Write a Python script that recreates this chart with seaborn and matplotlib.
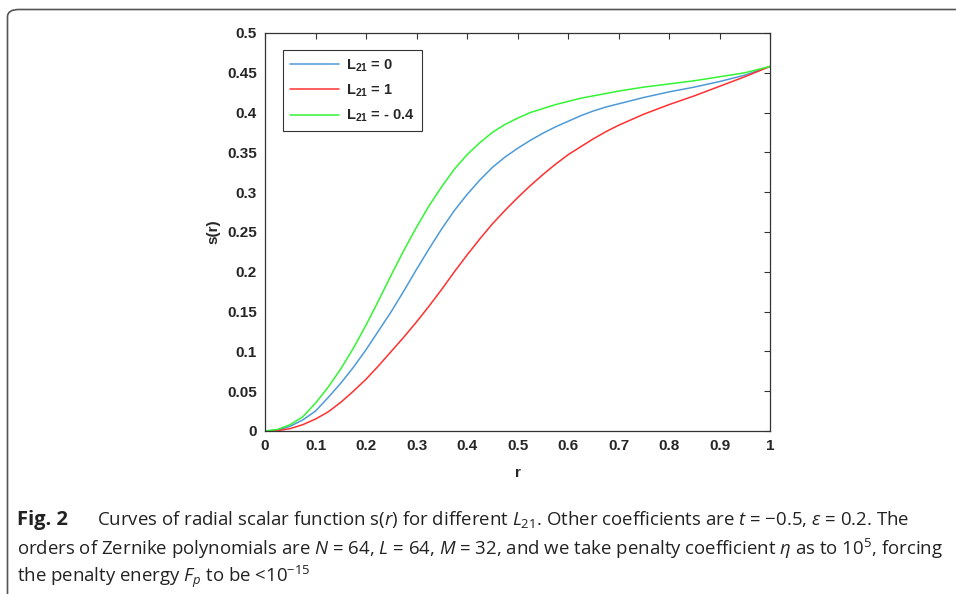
import numpy as np
import pandas as pd
import matplotlib
matplotlib.use("Agg")
import matplotlib.pyplot as plt
from matplotlib.patches import FancyBboxPatch
from matplotlib.ticker import FuncFormatter, MultipleLocator
import seaborn as sns

# values
r = [0, 0.025, 0.05, 0.075, 0.1, 0.125, 0.15, 0.175, 0.2, 0.225, 0.25, 0.275,
     0.3, 0.325, 0.35, 0.375, 0.4, 0.425, 0.45, 0.475, 0.5, 0.525, 0.55, 0.575,
     0.6, 0.625, 0.65, 0.675, 0.7, 0.75, 0.8, 0.85, 0.9, 0.95, 1.0]
s_L0 = [0, 0.001, 0.006, 0.014, 0.025, 0.042, 0.060, 0.080, 0.102, 0.126, 0.150,
        0.176, 0.203, 0.229, 0.254, 0.277, 0.297, 0.315, 0.331, 0.344, 0.355,
        0.365, 0.374, 0.382, 0.389, 0.396, 0.402, 0.407, 0.411, 0.419, 0.426,
        0.432, 0.439, 0.447, 0.458]
s_L1 = [0, 0.0005, 0.003, 0.008, 0.015, 0.024, 0.036, 0.050, 0.065, 0.082, 0.100,
        0.118, 0.137, 0.157, 0.178, 0.200, 0.221, 0.241, 0.260, 0.277, 0.293,
        0.308, 0.322, 0.335, 0.347, 0.357, 0.367, 0.376, 0.384, 0.398, 0.410,
        0.421, 0.433, 0.445, 0.458]
s_Lm04 = [0, 0.002, 0.008, 0.018, 0.035, 0.055, 0.078, 0.104, 0.133, 0.164, 0.196,
          0.227, 0.256, 0.283, 0.307, 0.329, 0.347, 0.362, 0.375, 0.385, 0.393,
          0.400, 0.405, 0.410, 0.414, 0.418, 0.421, 0.424, 0.427, 0.432, 0.436,
          0.440, 0.445, 0.450, 0.458]
labels = [r"L$_{\mathbf{21}}$ = 0", r"L$_{\mathbf{21}}$ = 1", r"L$_{\mathbf{21}}$ = - 0.4"]
colors = ["#4d9ad8", "#ff3030", "#33f533"]

df = pd.concat([
    pd.DataFrame({"r": r, "s": s_L0, "case": labels[0]}),
    pd.DataFrame({"r": r, "s": s_L1, "case": labels[1]}),
    pd.DataFrame({"r": r, "s": s_Lm04, "case": labels[2]}),
])

sns.set_theme(style="white")
plt.rcParams["font.family"] = ["Liberation Sans", "DejaVu Sans"]
plt.rcParams["mathtext.fontset"] = "custom"
plt.rcParams["mathtext.rm"] = "Open Sans"
plt.rcParams["mathtext.it"] = "Open Sans:italic"
plt.rcParams["mathtext.bf"] = "Liberation Sans:bold"

fig = plt.figure(figsize=(9.56, 5.94), dpi=100)
ax = fig.add_axes([265 / 956, 1 - 431 / 594, 505 / 956, 398 / 594])

sns.lineplot(data=df, x="r", y="s", hue="case", palette=colors, ax=ax,
             linewidth=1.1, legend=True)

ax.set_xlim(0, 1)
ax.set_ylim(0, 0.5)
ax.xaxis.set_major_locator(MultipleLocator(0.1))
ax.yaxis.set_major_locator(MultipleLocator(0.05))
fmt = FuncFormatter(lambda v, p: "%g" % round(v, 3))
ax.xaxis.set_major_formatter(fmt)
ax.yaxis.set_major_formatter(fmt)
ax.tick_params(direction="in", length=4, width=0.8, top=True, right=True,
               color="#333333", labelsize=11, pad=6)
for lab in ax.get_xticklabels() + ax.get_yticklabels():
    lab.set_fontweight("bold")
for sp in ax.spines.values():
    sp.set_color("#333333")
    sp.set_linewidth(0.9)

ax.set_xlabel("r", fontsize=11, fontweight="bold", labelpad=9)
ax.set_ylabel("s(r)", fontsize=11, fontweight="bold", labelpad=5)

handles, _ = ax.get_legend_handles_labels()
leg = ax.legend(handles, labels, loc="upper left", bbox_to_anchor=(0.036, 0.957),
                borderaxespad=0, fancybox=False, edgecolor="black",
                prop={"weight": "bold", "size": 10.5}, handlelength=3.3,
                labelspacing=0.6, borderpad=0.5, handletextpad=0.5)
leg.get_frame().set_linewidth(0.8)

# outer frame of the figure panel
box = FancyBboxPatch((7.5 / 956, -0.1), 1.2, 1.1 - 9.5 / 594,
                     boxstyle="round,pad=0,rounding_size=0.012",
                     transform=fig.transFigure, fill=False,
                     edgecolor="#555555", linewidth=1.2)
fig.patches.append(box)

cap_kw = dict(fontsize=13.4, family=["Open Sans", "DejaVu Sans"], color="#222222",
              va="center", ha="left")
fig.text(17 / 956, 1 - 520 / 594, "Fig. 2", fontweight="bold",
         **{**cap_kw, "fontsize": 14.5})
fig.text(97 / 956, 1 - 520 / 594,
         r"Curves of radial scalar function s($r$) for different $L_{21}$. "
         r"Other coefficients are $t$ = −0.5, $\varepsilon$ = 0.2. The", **cap_kw)
fig.text(17 / 956, 1 - 549 / 594,
         r"orders of Zernike polynomials are $N$ = 64, $L$ = 64, $M$ = 32, and we take penalty "
         r"coefficient $\eta$ as to 10$^5$, forcing", **cap_kw)
fig.text(17 / 956, 1 - 577 / 594,
         r"the penalty energy $F_p$ to be <10$^{-15}$", **cap_kw)

fig.savefig("out.png", dpi=100)
